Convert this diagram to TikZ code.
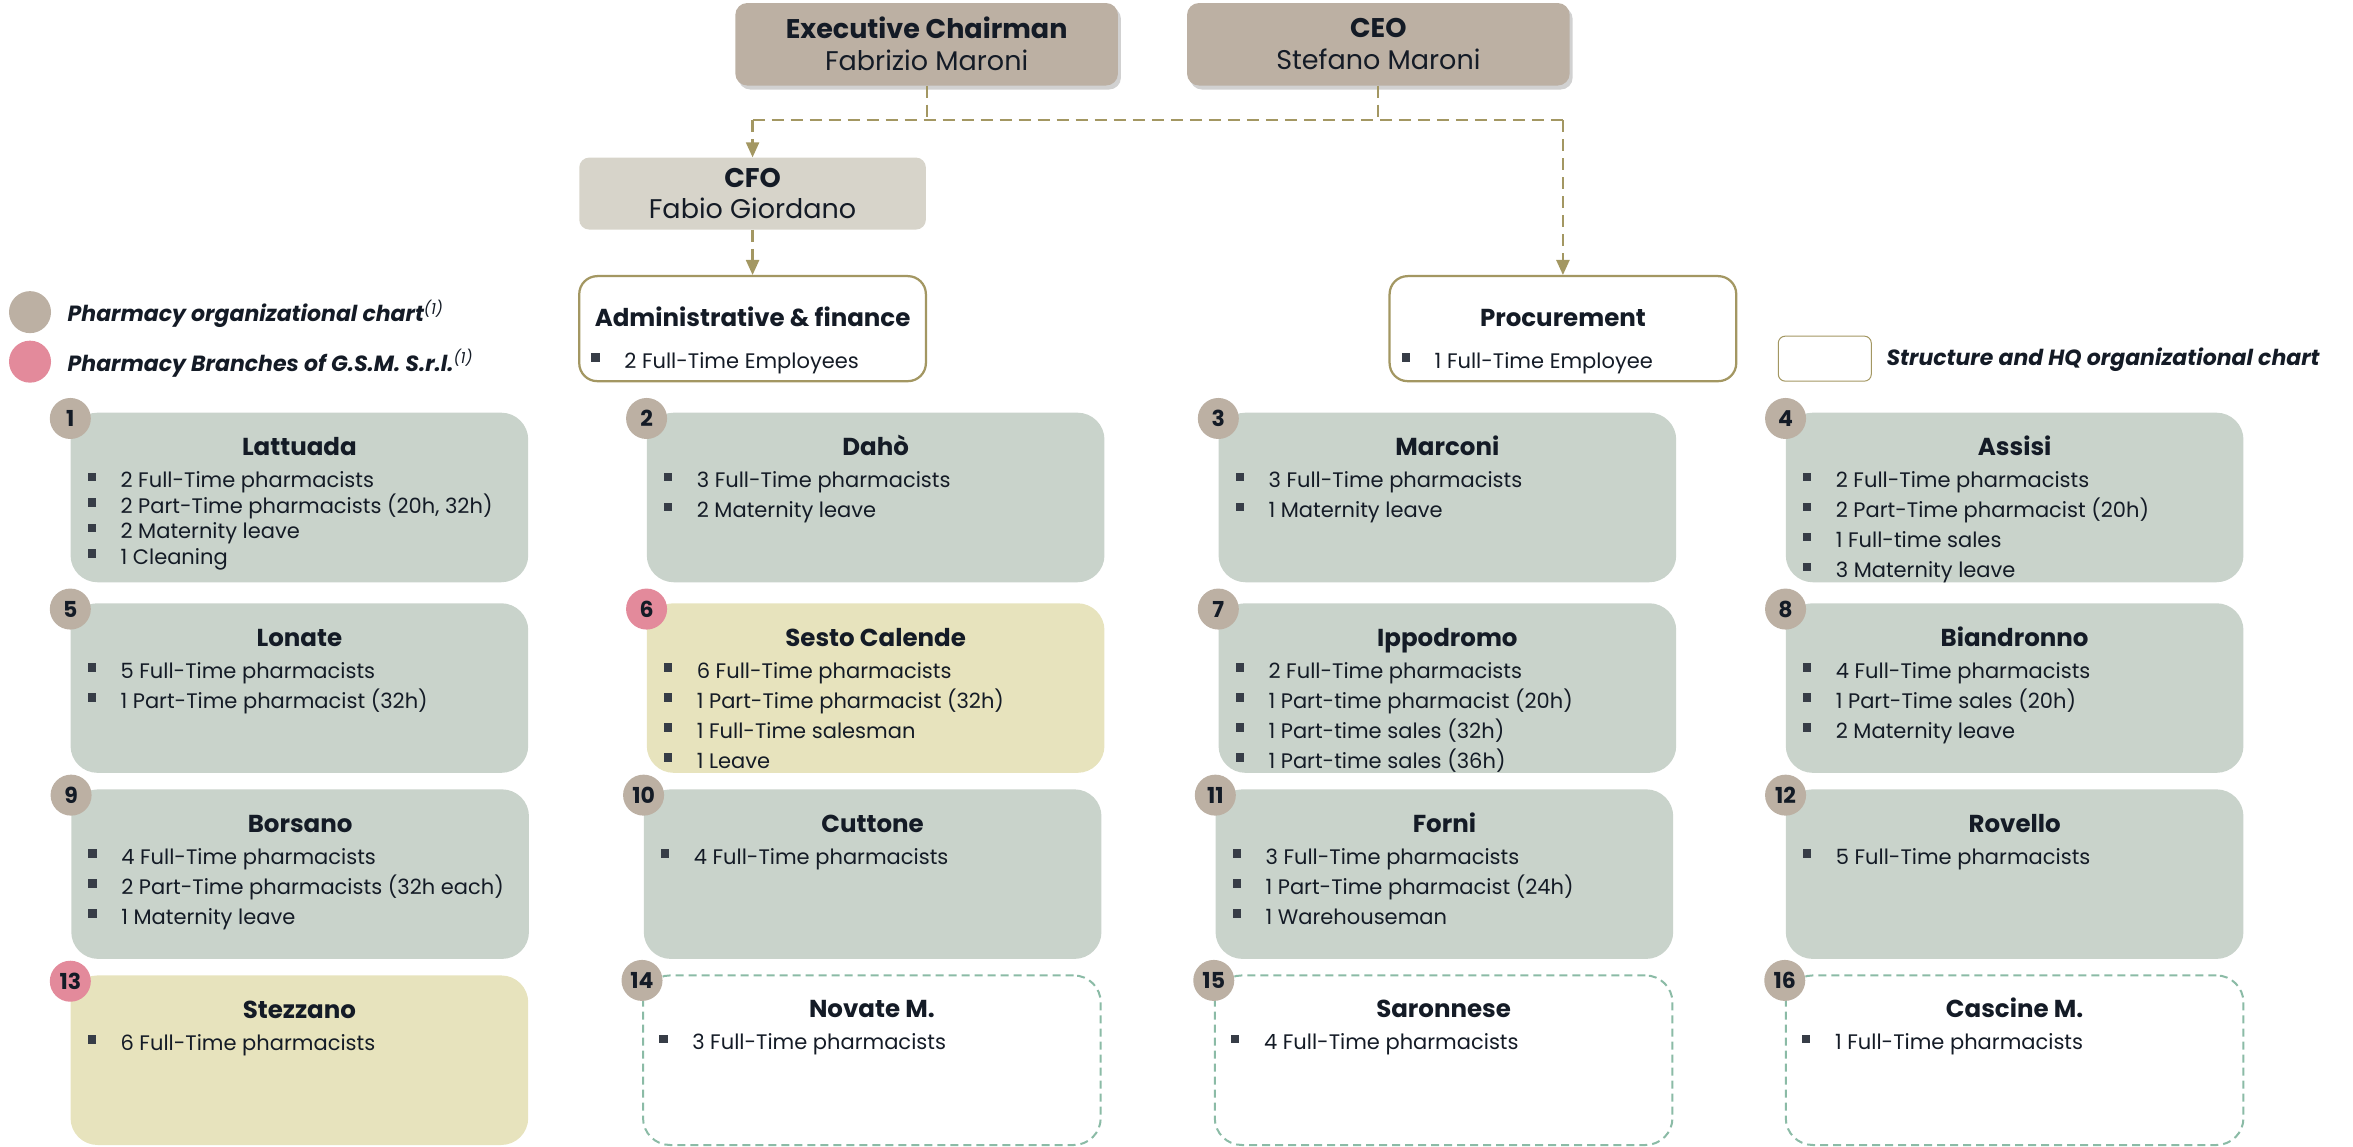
\documentclass[tikz,border=0pt]{standalone}
\usepackage{fontspec}
\setmainfont{Poppins}
\usetikzlibrary{positioning,arrows.meta,shadows}

\definecolor{ink}{HTML}{141B26}
\definecolor{taupe}{HTML}{BCB0A3}
\definecolor{sage}{HTML}{C9D3CB}
\definecolor{straw}{HTML}{E7E3BD}
\definecolor{rose}{HTML}{E38A9B}
\definecolor{cfofill}{HTML}{D7D4CA}
\definecolor{olive}{HTML}{A39762}
\definecolor{mint}{HTML}{8BBBA6}

\newcommand{\blt}{\strut\makebox[33pt][l]{\raisebox{6.5pt}{\color{ink!85}\rule{8.5pt}{8.5pt}}}}

\tikzset{
        x=1.5pt, y=-1.5pt,
        boss/.style={fill=taupe, rounded corners=12pt, minimum width=382.5pt, minimum height=82.5pt,
          align=center, text=ink, font=\fontsize{27}{32}\selectfont,
          drop shadow={shadow xshift=3pt, shadow yshift=-4pt, opacity=0.3, fill=black!60}},
        cfo/.style={fill=cfofill, rounded corners=10pt, minimum width=346.5pt, minimum height=72pt,
          align=center, text=ink, font=\fontsize{27}{31.5}\selectfont},
        office/.style={draw=olive, line width=2.25pt, fill=white, rounded corners=18pt,
          minimum width=346.5pt, minimum height=105pt},
        link/.style={draw=olive, line width=2.25pt, dash pattern=on 12pt off 7pt},
        tip/.style={-{Triangle[length=15pt, width=13pt]}},
        box/.style={rounded corners=27pt, minimum width=457.5pt, minimum height=169.5pt, inner sep=0pt},
        boxown/.style={box, fill=sage},
        boxgsm/.style={box, fill=straw},
        boxnew/.style={box, draw=mint, line width=2pt, dash pattern=on 8pt off 5pt, fill=white},
        badge/.style={circle, minimum size=41pt, inner sep=0pt, text=ink, font=\fontsize{22}{22}\selectfont\bfseries},
        badgeown/.style={badge, fill=taupe},
        badgegsm/.style={badge, fill=rose},
        badgenew/.style={badge, fill=taupe},
        ttl/.style={anchor=base, inner sep=0pt, text=ink, font=\fontsize{24.5}{28}\selectfont\bfseries},
        lst/.style={anchor=north west, inner sep=0pt, align=left, text=ink, font=\fontsize{21}{30}\selectfont},
        keytext/.style={anchor=west, inner sep=0pt, text=ink, font=\fontsize{22}{26}\selectfont\bfseries\itshape},
        keydot/.style={circle, minimum size=42pt, inner sep=0pt}
          }

% one pharmacy: id, x, y, kind, name, staff
\newcommand{\branch}[6]{%
  \node[box#4] (b#1) at (#2,#3) {};
  \node[ttl] (t#1) at ([yshift=-43pt]b#1.north) {#5};
  \node[lst] (l#1) at ([xshift=17pt,yshift=-54pt]b#1.north west) {#6};
  \node[badge#4] (n#1) at ([yshift=-6pt]b#1.north west) {#1};
}

\begin{document}
\begin{tikzpicture}
\useasboundingbox (0,0) rectangle (1568,764);

% top management
\node[boss] (chair) at (617.5,29.5) {{\bfseries Executive Chairman}\\Fabrizio Maroni};
\node[boss] (ceo) at (918.5,29.5) {{\bfseries CEO}\\Stefano Maroni};
\node[cfo] (cfo) at (501.5,129) {{\bfseries CFO}\\Fabio Giordano};

% HQ offices
\node[office] (adm) at (501.5,219) {};
\node[ttl] (tadm) at ([yshift=-51pt]adm.north) {Administrative \& finance};
\node[lst] (ladm) at ([xshift=13pt,yshift=-72pt]adm.north west) {\blt 2 Full-Time Employees};
\node[office] (proc) at (1041.5,219) {};
\node[ttl] (tproc) at ([yshift=-51pt]proc.north) {Procurement};
\node[lst] (lproc) at ([xshift=13pt,yshift=-72pt]proc.north west) {\blt 1 Full-Time Employee};

% reporting lines
\coordinate (busL) at (501.5,80);
\coordinate (busR) at (1041.5,80);
\draw[link] (chair.south) -- (chair.south |- busL);
\draw[link] (ceo.south) -- (ceo.south |- busL);
\draw[link] (busL) -- (busR);
\draw[link, tip] (busL) -- (cfo.north);
\draw[link, tip] (busR) -- (proc.north);
\draw[link, tip] (cfo.south) -- (adm.north);

% legend
\node[keydot, fill=taupe] (k1) at (20,208) {};
\node[keytext] (k1t) at (45,209) {Pharmacy organizational chart\textsuperscript{\mdseries (1)}};
\node[keydot, fill=rose] (k2) at (20,241) {};
\node[keytext] (k2t) at (45,242) {Pharmacy Branches of G.S.M. S.r.l.\textsuperscript{\mdseries (1)}};
\node[draw=olive, line width=1pt, rounded corners=7pt, minimum width=93pt, minimum height=45pt] (k3) at (1216,239) {};
\node[keytext] (k3t) at (1257,240) {Structure and HQ organizational chart};

% pharmacies
\branch{1}{199.5}{331.5}{own}{Lattuada}{\blt 2 Full-Time pharmacists\\[-4.5pt]\blt 2 Part-Time pharmacists (20h, 32h)\\[-4.5pt]\blt 2 Maternity leave\\[-4.5pt]\blt 1 Cleaning}
\branch{2}{583.5}{331.5}{own}{Dahò}{\blt 3 Full-Time pharmacists\\\blt 2 Maternity leave}
\branch{3}{964.5}{331.5}{own}{Marconi}{\blt 3 Full-Time pharmacists\\\blt 1 Maternity leave}
\branch{4}{1342.5}{331.5}{own}{Assisi}{\blt 2 Full-Time pharmacists\\\blt 2 Part-Time pharmacist (20h)\\\blt 1 Full-time sales\\\blt 3 Maternity leave}

\branch{5}{199.5}{458.5}{own}{Lonate}{\blt 5 Full-Time pharmacists\\\blt 1 Part-Time pharmacist (32h)}
\branch{6}{583.5}{458.5}{gsm}{Sesto Calende}{\blt 6 Full-Time pharmacists\\\blt 1 Part-Time pharmacist (32h)\\\blt 1 Full-Time salesman\\\blt 1 Leave}
\branch{7}{964.5}{458.5}{own}{Ippodromo}{\blt 2 Full-Time pharmacists\\\blt 1 Part-time pharmacist (20h)\\\blt 1 Part-time sales (32h)\\\blt 1 Part-time sales (36h)}
\branch{8}{1342.5}{458.5}{own}{Biandronno}{\blt 4 Full-Time pharmacists\\\blt 1 Part-Time sales (20h)\\\blt 2 Maternity leave}

\branch{9}{200}{582.5}{own}{Borsano}{\blt 4 Full-Time pharmacists\\\blt 2 Part-Time pharmacists (32h each)\\\blt 1 Maternity leave}
\branch{10}{581.5}{582.5}{own}{Cuttone}{\blt 4 Full-Time pharmacists}
\branch{11}{962.5}{582.5}{own}{Forni}{\blt 3 Full-Time pharmacists\\\blt 1 Part-Time pharmacist (24h)\\\blt 1 Warehouseman}
\branch{12}{1342.5}{582.5}{own}{Rovello}{\blt 5 Full-Time pharmacists}

\branch{13}{199.5}{706.5}{gsm}{Stezzano}{\blt 6 Full-Time pharmacists}
\branch{14}{581}{706.5}{new}{Novate M.}{\blt 3 Full-Time pharmacists}
\branch{15}{962}{706.5}{new}{Saronnese}{\blt 4 Full-Time pharmacists}
\branch{16}{1342.5}{706.5}{new}{Cascine M.}{\blt 1 Full-Time pharmacists}
\end{tikzpicture}
\end{document}
